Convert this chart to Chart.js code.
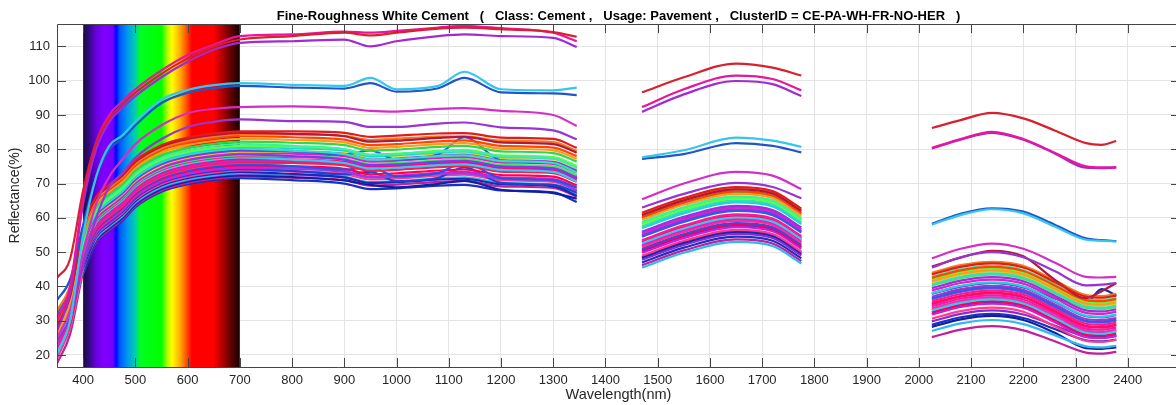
<!DOCTYPE html>
<html>
<head>
<meta charset="utf-8">
<title>Fine-Roughness White Cement</title>
<script src="https://cdn.jsdelivr.net/npm/chart.js"></script>
<style>
  html, body { margin: 0; padding: 0; overflow: hidden; background: #fff; }
</style>
</head>
<body>
<canvas id="myChart" width="1184" height="405"></canvas>
<script>
// wavelength grid (nm); 1400 and 1900 are the water-band gaps
var wavelengths = [350, 375, 400, 425, 450, 475, 500, 550, 600, 650, 700, 800, 900, 950, 1000, 1080, 1130, 1200, 1300, 1345,
  1400, 1470, 1550, 1650, 1720, 1775, 1900, 2025, 2080, 2140, 2200, 2260, 2320, 2350, 2378];

var xTicks = [400, 500, 600, 700, 800, 900, 1000, 1100, 1200, 1300, 1400, 1500, 1600, 1700, 1800, 1900, 2000, 2100, 2200, 2300, 2400];
var yTicks = [20, 30, 40, 50, 60, 70, 80, 90, 100, 110];

var lineColors = [
  "#d9202e", "#e8169c", "#a22ad0", "#35c6ee", "#1f55c8", "#d42fc4", "#9a34d0",
  "#e41a1c", "#b0183c", "#f47a20", "#ff4500", "#ff9a1a", "#2bd94a", "#3cf0a0", "#5cff3c",
  "#1ed2e0", "#30e0b8", "#2a5ee8", "#9d2fe0", "#e8d21c", "#e020c8", "#7a3cf0", "#46e85a",
  "#ff1a8c", "#36c8f0", "#ff0a6e", "#b030c0", "#f01ab4", "#f02050", "#ff2aa0", "#3050e0",
  "#ff0050", "#9040e8", "#d81ad8", "#2040d0", "#ff3c8c", "#1a2ab0", "#30b8f0", "#8a2ad0",
  "#1020a0", "#c0209c", "#1a30c0"
];

// reflectance (%) per sample, same order as lineColors
var reflectance = [
  [42.5, 48, 68, 82, 89, 93, 96.5, 102, 106.5, 110, 112, 113, 114, 113.2, 114, 115.2, 115.5, 115, 114.2, 112.8, null, 96.6, 101, 105, 103.8, 101.5, null, 86.2, 88.5, 90.6, 89, 85.5, 81.8, 81.3, 82.4],
  [30, 40, 66, 82, 90, 94, 97.5, 103, 107.5, 110.5, 113, 113.5, 114.3, 114, 114.5, 115.5, 116, 115.3, 114, 111.5, null, 92.3, 97.5, 101.5, 100.5, 97.2, null, 80.4, 83, 85.1, 83, 79, 75, 74.7, 74.8],
  [27, 38, 64, 80, 88, 92, 95.5, 101, 105.5, 109, 111, 111.5, 112, 110, 111.5, 113, 113.5, 113, 112.5, 109.8, null, 90.9, 96, 99.9, 99, 95.5, null, 80.2, 82.8, 84.8, 82.8, 78.8, 74.6, 74.5, 74.6],
  [20, 30, 55, 72, 81, 84, 88, 94.5, 97.3, 98.7, 99.3, 98.8, 98.5, 100.8, 97.5, 98.5, 102.6, 97.5, 97.2, 98, null, 77.6, 79.7, 83.4, 82.5, 80.7, null, 58, 60.8, 62.5, 61.3, 57.5, 53.6, 53.3, 53.1],
  [36, 42, 58, 72, 80, 83, 87, 93.5, 96.5, 97.8, 98.5, 98, 97.7, 99.3, 96.8, 97.8, 100.8, 96.6, 96.3, 95.8, null, 77.2, 78.6, 81.8, 81, 79.1, null, 58.3, 61.2, 62.8, 61.8, 58, 54, 53.5, 53.2],
  [25, 33, 50, 64, 72, 77, 81.5, 87, 90.5, 91.8, 92.3, 92.5, 92, 91.2, 91, 91.8, 92, 91.2, 90, 86.8, null, 65.4, 70, 73.4, 72.3, 68.4, null, 48.2, 51, 52.5, 51, 47, 42.8, 42.6, 42.8],
  [24, 31, 47, 60, 69, 73, 77.5, 83, 86.5, 88, 88.7, 88.2, 88, 86.5, 86.5, 87.5, 87.8, 86.4, 85.5, 82.9, null, 63, 67, 70.2, 69, 65.7, null, 45.5, 48.5, 50, 48.5, 44.5, 40.3, 40.5, 41],
  [31, 38, 57.2, 66.2, 69.7, 72.7, 76.7, 81.2, 83.4, 84.6, 85.2, 85.2, 84.8, 83.6, 84.0, 84.6, 84.7, 83.4, 83.0, 80.4, null, 61.5, 65.8, 69.0, 67.8, 62.7, null, 43.5, 45.7, 46.7, 45.5, 41.3, 37.0, 36.7, 37.3],
  [28, 37, 56.8, 65.8, 69.3, 72.3, 76.3, 80.8, 83.0, 84.2, 84.8, 84.5, 83.8, 82.2, 82.5, 83.3, 83.6, 82.0, 81.5, 79.0, null, 60.8, 65.1, 68.3, 67.1, 62.0, null, 45.8, 48.4, 50.4, 48.8, 42.0, 36.6, 38.6, 41.0],
  [33, 40, 56.3, 65.3, 68.8, 71.8, 75.8, 80.3, 82.5, 83.7, 84.3, 84.3, 83.9, 82.7, 83.1, 83.7, 83.8, 82.5, 82.1, 79.5, null, 61.0, 65.3, 68.5, 67.3, 62.2, null, 44.0, 46.2, 47.2, 46.0, 41.8, 37.5, 37.2, 37.8],
  [29, 38, 55.8, 64.8, 68.3, 71.3, 75.3, 79.8, 82.0, 83.2, 83.8, 83.5, 82.8, 81.2, 81.5, 82.3, 82.6, 81.0, 80.5, 78.0, null, 60.2, 64.5, 67.7, 66.5, 61.4, null, 42.5, 44.7, 45.7, 44.5, 40.3, 36.0, 35.7, 36.3],
  [26, 35, 55.0, 64.0, 67.5, 70.5, 74.5, 79.0, 81.2, 82.4, 83.0, 82.7, 82.0, 80.4, 80.7, 81.5, 81.8, 80.2, 79.7, 77.2, null, 59.5, 63.8, 67.0, 65.8, 60.7, null, 41.5, 43.7, 44.7, 43.5, 39.3, 35.0, 34.7, 35.3],
  [30, 38, 54.2, 63.2, 66.7, 69.7, 73.7, 78.2, 80.4, 81.6, 82.2, 81.9, 81.2, 79.6, 79.9, 80.7, 81.0, 79.4, 78.9, 76.4, null, 60.0, 64.3, 67.5, 66.3, 61.2, null, 43.8, 46.0, 47.0, 45.8, 41.6, 37.3, 37.0, 37.6],
  [27, 36, 53.6, 62.6, 66.1, 69.1, 73.1, 77.6, 79.8, 81.0, 81.6, 81.0, 80.0, 78.4, 78.6, 79.4, 79.6, 78.0, 77.4, 74.6, null, 58.8, 63.1, 66.3, 65.1, 60.0, null, 42.8, 45.0, 46.0, 44.8, 40.6, 36.3, 36.0, 36.6],
  [25, 34, 53.0, 62.0, 65.5, 68.5, 72.5, 77.0, 79.2, 80.4, 81.0, 80.7, 80.0, 78.4, 78.7, 79.5, 79.8, 78.2, 77.7, 75.2, null, 58.2, 62.5, 65.7, 64.5, 59.4, null, 42.0, 44.2, 45.2, 44.0, 39.8, 35.5, 35.2, 35.8],
  [29, 37, 52.6, 61.6, 65.1, 68.1, 72.1, 76.6, 78.8, 80.0, 80.6, 80.3, 79.6, 78.0, 78.3, 79.1, 79.4, 77.8, 77.3, 74.8, null, 57.0, 61.3, 64.5, 63.3, 58.2, null, 38.0, 40.2, 41.2, 40.0, 35.8, 31.5, 31.2, 31.8],
  [24, 33, 52.2, 61.2, 64.7, 67.7, 71.7, 76.2, 78.4, 79.6, 80.2, 79.6, 78.6, 77.0, 77.2, 78.0, 78.2, 76.6, 76.0, 73.2, null, 57.6, 61.9, 65.1, 63.9, 58.8, null, 40.6, 42.8, 43.8, 42.6, 38.4, 34.1, 33.8, 34.4],
  [32, 39, 52.0, 61.0, 64.5, 67.5, 71.5, 76.0, 78.2, 79.4, 80.0, 79.5, 78.5, 79.7, 77.0, 78.5, 83.5, 76.8, 76.0, 73.5, null, 54.5, 58.8, 62.0, 60.8, 55.7, null, 36.5, 38.7, 39.7, 38.5, 34.3, 30.0, 29.7, 30.3],
  [27, 36, 51.6, 60.6, 64.1, 67.1, 71.1, 75.6, 77.8, 79.0, 79.6, 79.3, 78.6, 77.0, 77.3, 78.1, 78.4, 76.8, 76.3, 73.8, null, 56.0, 60.3, 63.5, 62.3, 57.2, null, 39.5, 41.7, 42.7, 41.5, 37.3, 33.0, 32.7, 33.3],
  [26, 35, 51.3, 60.3, 63.8, 66.8, 70.8, 75.3, 77.5, 78.7, 79.3, 79.3, 78.9, 77.7, 78.1, 78.7, 78.8, 77.5, 77.1, 74.5, null, 57.2, 61.5, 64.7, 63.5, 58.4, null, 41.2, 43.4, 44.4, 43.2, 39.0, 34.7, 34.4, 35.0],
  [23, 32, 51.0, 60.0, 63.5, 66.5, 70.5, 75.0, 77.2, 78.4, 79.0, 78.7, 78.0, 76.4, 76.7, 77.5, 77.8, 76.2, 75.7, 73.2, null, 55.5, 59.8, 63.0, 61.8, 56.7, null, 38.8, 41.0, 42.0, 40.8, 36.6, 32.3, 32.0, 32.6],
  [28, 36, 50.6, 59.6, 63.1, 66.1, 70.1, 74.6, 76.8, 78.0, 78.6, 78.0, 77.0, 75.4, 75.6, 76.4, 76.6, 75.0, 74.4, 71.6, null, 54.8, 59.1, 62.3, 61.1, 56.0, null, 37.8, 40.0, 41.0, 39.8, 35.6, 31.3, 31.0, 31.6],
  [25, 34, 50.3, 59.3, 62.8, 65.8, 69.8, 74.3, 76.5, 77.7, 78.3, 78.0, 77.3, 75.7, 76.0, 76.8, 77.1, 75.5, 75.0, 72.5, null, 58.5, 62.8, 66.0, 64.8, 59.7, null, 40.2, 42.4, 43.4, 42.2, 38.0, 33.7, 33.4, 34.0],
  [22, 31, 50.0, 59.0, 62.5, 65.5, 69.5, 74.0, 76.2, 77.4, 78.0, 77.7, 77.0, 75.4, 75.7, 76.5, 76.8, 75.2, 74.7, 72.2, null, 53.5, 57.8, 61.0, 59.8, 54.7, null, 35.6, 37.8, 38.8, 37.6, 33.4, 29.1, 28.8, 29.4],
  [21, 30, 49.6, 58.6, 62.1, 65.1, 69.1, 73.6, 75.8, 77.0, 77.6, 77.0, 76.0, 74.4, 74.6, 75.4, 75.6, 74.0, 73.4, 70.6, null, 52.6, 56.9, 60.1, 58.9, 53.8, null, 33.0, 35.2, 36.2, 35.0, 30.8, 26.5, 26.2, 26.8],
  [24, 33, 49.3, 58.3, 61.8, 64.8, 68.8, 73.3, 75.5, 76.7, 77.3, 77.0, 76.3, 74.7, 75.0, 75.8, 76.1, 74.5, 74.0, 71.5, null, 53.0, 57.3, 60.5, 59.3, 54.2, null, 35.0, 37.2, 38.2, 37.0, 32.8, 28.5, 28.2, 28.8],
  [26, 35, 49.0, 58.0, 61.5, 64.5, 68.5, 73.0, 75.2, 76.4, 77.0, 76.7, 76.0, 74.4, 74.7, 75.5, 75.8, 74.2, 73.7, 71.2, null, 55.0, 59.3, 62.5, 61.3, 56.2, null, 37.0, 39.2, 40.2, 39.0, 34.8, 30.5, 30.2, 30.8],
  [22, 31, 48.6, 57.6, 61.1, 64.1, 68.1, 72.6, 74.8, 76.0, 76.6, 76.6, 76.2, 75.0, 75.4, 76.0, 76.1, 74.8, 74.4, 71.8, null, 52.2, 56.5, 59.7, 58.5, 53.4, null, 34.2, 36.4, 37.4, 36.2, 32.0, 27.7, 27.4, 28.0],
  [27, 36, 48.3, 57.3, 60.8, 63.8, 67.8, 72.3, 74.5, 75.7, 76.3, 76.0, 75.3, 73.7, 74.0, 74.8, 75.1, 73.5, 73.0, 70.5, null, 52.8, 57.1, 60.3, 59.1, 54.0, null, 34.8, 37.0, 38.0, 36.8, 32.6, 28.3, 28.0, 28.6],
  [23, 32, 48.0, 57.0, 60.5, 63.5, 67.5, 72.0, 74.2, 75.4, 76.0, 76.0, 75.6, 74.4, 74.8, 75.4, 75.5, 74.2, 73.8, 71.2, null, 51.6, 55.9, 59.1, 57.9, 52.8, null, 33.6, 35.8, 36.8, 35.6, 31.4, 27.1, 26.8, 27.4],
  [30, 37, 47.6, 56.6, 60.1, 63.1, 67.1, 71.6, 73.8, 75.0, 75.6, 75.1, 74.1, 74.8, 72.1, 73.1, 76.1, 71.6, 71.0, 68.8, null, 51.0, 55.3, 58.5, 57.3, 52.2, null, 33.2, 35.4, 36.4, 35.2, 31.0, 26.7, 26.4, 27.0],
  [20, 29, 47.3, 56.3, 59.8, 62.8, 66.8, 71.3, 73.5, 74.7, 75.3, 75.0, 74.3, 72.7, 73.0, 73.8, 74.1, 72.5, 72.0, 69.5, null, 50.6, 54.9, 58.1, 56.9, 51.8, null, 32.5, 34.7, 35.7, 34.5, 30.3, 26.0, 25.7, 26.3],
  [25, 34, 47.0, 56.0, 59.5, 62.5, 66.5, 71.0, 73.2, 74.4, 75.0, 74.4, 73.4, 71.8, 72.0, 72.8, 73.0, 71.4, 70.8, 68.0, null, 51.8, 56.1, 59.3, 58.1, 53.0, null, 36.2, 38.4, 39.4, 38.2, 34.0, 29.7, 29.4, 30.0],
  [21, 30, 46.6, 55.6, 59.1, 62.1, 66.1, 70.6, 72.8, 74.0, 74.6, 74.3, 73.6, 72.0, 72.3, 73.1, 73.4, 71.8, 71.3, 68.8, null, 49.8, 54.1, 57.3, 56.1, 51.0, null, 31.8, 34.0, 35.0, 33.8, 29.6, 25.3, 25.0, 25.6],
  [26, 35, 46.2, 55.2, 58.7, 61.7, 65.7, 70.2, 72.4, 73.6, 74.2, 73.7, 72.7, 73.4, 70.7, 71.7, 74.7, 70.2, 69.6, 67.4, null, 50.2, 54.5, 57.7, 56.5, 51.4, null, 32.0, 34.2, 35.2, 34.0, 29.8, 25.5, 25.2, 25.8],
  [19, 28, 45.8, 54.8, 58.3, 61.3, 65.3, 69.8, 72.0, 73.2, 73.8, 73.5, 72.8, 71.2, 71.5, 72.3, 72.6, 71.0, 70.5, 68.0, null, 49.0, 53.3, 56.5, 55.3, 50.2, null, 30.6, 32.8, 33.8, 32.6, 28.4, 24.1, 23.8, 24.4],
  [28, 36, 45.4, 54.4, 57.9, 60.9, 64.9, 69.4, 71.6, 72.8, 73.4, 72.8, 71.8, 70.2, 70.4, 71.2, 71.4, 69.8, 69.2, 66.4, null, 48.6, 52.9, 56.1, 54.9, 49.8, null, 38.0, 40.0, 41.0, 39.8, 36.5, 35.2, 39.2, 37.3],
  [19.5, 28, 45.0, 54.0, 57.5, 60.5, 64.5, 69.0, 71.2, 72.4, 73.0, 72.7, 72.0, 70.4, 70.7, 71.5, 71.8, 70.2, 69.7, 67.2, null, 45.5, 49.8, 53.0, 51.8, 46.7, null, 27.0, 29.2, 30.2, 29.0, 25.8, 22.5, 22.2, 22.7],
  [24, 33, 44.8, 53.8, 57.3, 60.3, 64.3, 68.8, 71.0, 72.2, 72.8, 72.5, 71.8, 70.2, 70.5, 71.3, 71.6, 70.0, 69.5, 67.0, null, 47.8, 52.1, 55.3, 54.1, 49.0, null, 29.8, 32.0, 33.0, 31.8, 28.6, 25.3, 25.0, 25.5],
  [27, 35, 44.4, 53.4, 56.9, 59.9, 63.9, 68.4, 70.6, 71.8, 72.4, 71.9, 70.9, 69.6, 68.9, 69.9, 70.8, 68.2, 67.2, 65.6, null, 48.2, 52.5, 55.7, 54.5, 49.4, null, 28.2, 30.4, 31.4, 30.2, 26.5, 22.0, 21.8, 22.2],
  [17.5, 26, 44.0, 53.0, 56.5, 59.5, 63.5, 68.0, 70.2, 71.4, 72.0, 71.7, 71.0, 69.4, 69.7, 70.5, 70.8, 69.2, 68.7, 66.2, null, 46.2, 50.5, 53.7, 52.5, 47.4, null, 25.2, 27.4, 28.4, 27.2, 24.0, 20.7, 20.4, 20.9],
  [29, 36, 43.6, 52.6, 56.1, 59.1, 63.1, 67.6, 69.8, 71.0, 71.6, 71.0, 70.0, 68.4, 68.6, 69.4, 69.6, 68.0, 67.4, 64.6, null, 47.0, 51.3, 54.5, 53.3, 48.2, null, 28.8, 31.0, 32.0, 30.8, 27.6, 24.3, 24.0, 24.5]
];

// visible band painted behind the curves, 400-700 nm
var spectrumStops = [
  [400, "#1c0a38"], [410, "#2e0a78"], [425, "#6a00e0"], [440, "#8000ff"], [457, "#7400ff"],
  [463, "#0000ff"], [470, "#0058ff"], [485, "#0098f0"], [500, "#00d0a8"], [510, "#00ff20"],
  [550, "#00ff00"], [562, "#b8ff00"], [570, "#ffff00"], [585, "#ffb000"], [600, "#ff4000"],
  [608, "#ff0000"], [650, "#ff0000"], [670, "#a00000"], [690, "#400000"], [700, "#180000"]
];

var spectrumBand = {
  id: "spectrumBand",
  beforeDatasetsDraw(chart) {
    const {ctx, chartArea, scales: {x}} = chart;
    const x0 = x.getPixelForValue(400);
    const x1 = x.getPixelForValue(700);
    const grad = ctx.createLinearGradient(x0, 0, x1, 0);
    spectrumStops.forEach(s => grad.addColorStop((s[0] - 400) / 300, s[1]));
    ctx.save();
    ctx.fillStyle = grad;
    ctx.fillRect(x0, chartArea.top, x1 - x0, chartArea.bottom - chartArea.top);
    ctx.restore();
  }
};

// box outline with inward ticks on all four sides
var axesFrame = {
  id: "axesFrame",
  afterDraw(chart) {
    const {ctx, chartArea: a, scales: {x, y}} = chart;
    const len = 9;
    ctx.save();
    ctx.strokeStyle = "#454545";
    ctx.lineWidth = 1;
    ctx.beginPath();
    ctx.rect(Math.round(a.left) + 0.5, Math.round(a.top) + 0.5, Math.round(a.right - a.left), Math.round(a.bottom - a.top));
    x.ticks.forEach(t => {
      const px = Math.round(x.getPixelForValue(t.value)) + 0.5;
      ctx.moveTo(px, a.bottom); ctx.lineTo(px, a.bottom - len);
      ctx.moveTo(px, a.top); ctx.lineTo(px, a.top + len);
    });
    y.ticks.forEach(t => {
      const py = Math.round(y.getPixelForValue(t.value)) + 0.5;
      ctx.moveTo(a.left, py); ctx.lineTo(a.left + len, py);
      ctx.moveTo(a.right, py); ctx.lineTo(a.right - len, py);
    });
    ctx.stroke();
    ctx.restore();
  }
};

var fontFamily = "Arial, 'Liberation Sans', Helvetica, sans-serif";

var datasets = reflectance.map((row, i) => ({
  data: wavelengths.map((w, j) => ({x: w, y: row[j]})),
  borderColor: lineColors[i],
  borderWidth: 2.2,
  pointRadius: 0,
  fill: false,
  spanGaps: false,
  cubicInterpolationMode: "monotone"
}));

new Chart("myChart", {
  type: "line",
  data: { datasets: datasets },
  plugins: [spectrumBand, axesFrame],
  options: {
    responsive: false,
    animation: false,
    layout: { padding: { left: 0, right: 4, top: 0, bottom: 0 } },
    plugins: {
      legend: { display: false },
      tooltip: { enabled: false },
      title: {
        display: true,
        fullSize: false,
        text: "Fine-Roughness White Cement   (   Class: Cement ,   Usage: Pavement ,   ClusterID = CE-PA-WH-FR-NO-HER   )",
        color: "#000",
        font: { family: fontFamily, size: 13, weight: "bold", lineHeight: 1.2 },
        padding: { top: 8.5, bottom: 0 }
      }
    },
    scales: {
      x: {
        type: "linear",
        min: 350,
        max: 2500,
        afterBuildTicks: s => { s.ticks = xTicks.map(v => ({value: v})); },
        afterFit: s => { s.height = 38; },
        grid: { color: "#e4e4e4", lineWidth: 1, drawTicks: false },
        border: { display: false },
        ticks: {
          color: "#262626", padding: 6, maxRotation: 0, autoSkip: false,
          font: { family: fontFamily, size: 13 },
          callback: v => String(v)
        },
        title: {
          display: true,
          text: "Wavelength(nm)",
          color: "#262626",
          font: { family: fontFamily, size: 14.5, lineHeight: 1.2 },
          padding: { top: 0, bottom: 1 }
        }
      },
      y: {
        min: 16.5,
        max: 116.5,
        afterBuildTicks: s => { s.ticks = yTicks.map(v => ({value: v})); },
        afterFit: s => { s.width = 57; },
        grid: { color: "#e4e4e4", lineWidth: 1, drawTicks: false },
        border: { display: false },
        ticks: {
          color: "#262626", padding: 7,
          font: { family: fontFamily, size: 13 },
          callback: v => String(v)
        },
        title: {
          display: true,
          text: "Reflectance(%)",
          color: "#262626",
          font: { family: fontFamily, size: 14, lineHeight: 1.2 },
          padding: { top: 7, bottom: 0 }
        }
      }
    }
  }
});
</script>
</body>
</html>
